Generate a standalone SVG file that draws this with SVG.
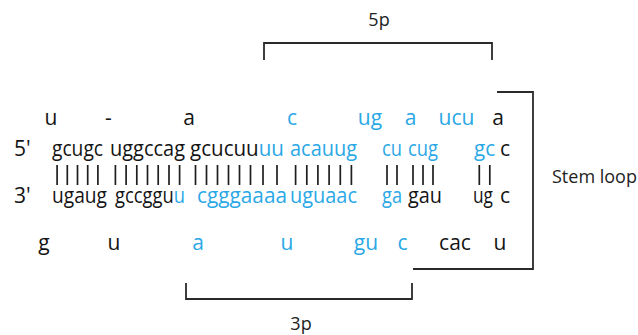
<svg xmlns="http://www.w3.org/2000/svg" width="638" height="335" viewBox="0 0 638 335">
  <style>
    text { font-family: "Open Sans", "Liberation Sans", sans-serif; }
    .seq { font-size: 21px; }
    .k { fill: #141414; }
    .b { fill: #2aa8e6; }
    .lbl { font-size: 18px; fill: #222; }
    .mid { text-anchor: middle; }
    .bracket { fill: none; stroke: #2a2a2a; stroke-width: 1.8; }
    .pair line { stroke: #1e1e1e; stroke-width: 1.7; }
  </style>
  <rect width="638" height="335" fill="#ffffff"/>

  <!-- connectors: region brackets -->
  <g id="connectors">
    <path class="bracket" d="M264,60 V43 H492 V60"/>
    <path class="bracket" d="M186,283 V299 H412 V283"/>
    <path class="bracket" d="M497,92 H533 V269 H413"/>
  </g>

  <g id="label-5p"><text class="lbl mid" x="379" y="26">5p</text></g>
  <g id="label-3p"><text class="lbl mid" x="301" y="330">3p</text></g>
  <g id="label-stem-loop"><text class="lbl" x="552" y="183">Stem loop</text></g>

  <!-- unpaired bases above the 5' arm -->
  <g id="unpaired-5p" class="seq">
    <text class="k mid" x="51" y="125">u</text>
    <text class="k mid" x="108.5" y="125">-</text>
    <text class="k mid" x="189" y="125">a</text>
    <text class="b mid" x="292" y="125">c</text>
    <text class="b mid" x="370" y="125">ug</text>
    <text class="b mid" x="410.5" y="125">a</text>
    <text class="b mid" x="456.5" y="125">ucu</text>
    <text class="k mid" x="498" y="125">a</text>
  </g>

  <!-- 5' strand -->
  <g id="strand-5p" class="seq">
    <text class="k" x="14" y="156">5'</text>
    <text class="k" x="52" y="156" textLength="51" lengthAdjust="spacingAndGlyphs">gcugc</text>
    <text class="k" x="110" y="156" textLength="75" lengthAdjust="spacingAndGlyphs">uggccag</text>
    <text class="k" x="190" y="156" textLength="94" lengthAdjust="spacingAndGlyphs">gcucuu<tspan class="b">uu</tspan></text>
    <text class="b" x="290" y="156" textLength="67" lengthAdjust="spacingAndGlyphs">acauug</text>
    <text class="b" x="382" y="156" textLength="20" lengthAdjust="spacingAndGlyphs">cu</text>
    <text class="b" x="408" y="156" textLength="30" lengthAdjust="spacingAndGlyphs">cug</text>
    <text class="b" x="474" y="156" textLength="21" lengthAdjust="spacingAndGlyphs">gc</text>
    <text class="k" x="500" y="156">c</text>
  </g>

  <!-- base pairs -->
  <g id="pairs" class="pair">
    <line x1="57.1" y1="165" x2="57.1" y2="185"/>
    <line x1="67.3" y1="165" x2="67.3" y2="185"/>
    <line x1="77.5" y1="165" x2="77.5" y2="185"/>
    <line x1="87.7" y1="165" x2="87.7" y2="185"/>
    <line x1="97.9" y1="165" x2="97.9" y2="185"/>
    <line x1="115.4" y1="165" x2="115.4" y2="185"/>
    <line x1="126.1" y1="165" x2="126.1" y2="185"/>
    <line x1="136.8" y1="165" x2="136.8" y2="185"/>
    <line x1="147.5" y1="165" x2="147.5" y2="185"/>
    <line x1="158.2" y1="165" x2="158.2" y2="185"/>
    <line x1="169" y1="165" x2="169" y2="185"/>
    <line x1="179.6" y1="165" x2="179.6" y2="185"/>
    <line x1="195.5" y1="165" x2="195.5" y2="185"/>
    <line x1="206.5" y1="165" x2="206.5" y2="185"/>
    <line x1="217.5" y1="165" x2="217.5" y2="185"/>
    <line x1="228.5" y1="165" x2="228.5" y2="185"/>
    <line x1="239.5" y1="165" x2="239.5" y2="185"/>
    <line x1="250.5" y1="165" x2="250.5" y2="185"/>
    <line x1="263" y1="165" x2="263" y2="185"/>
    <line x1="277" y1="165" x2="277" y2="185"/>
    <line x1="295.6" y1="165" x2="295.6" y2="185"/>
    <line x1="306.8" y1="165" x2="306.8" y2="185"/>
    <line x1="317.9" y1="165" x2="317.9" y2="185"/>
    <line x1="329.1" y1="165" x2="329.1" y2="185"/>
    <line x1="340.3" y1="165" x2="340.3" y2="185"/>
    <line x1="351.4" y1="165" x2="351.4" y2="185"/>
    <line x1="387" y1="165" x2="387" y2="185"/>
    <line x1="397" y1="165" x2="397" y2="185"/>
    <line x1="413" y1="165" x2="413" y2="185"/>
    <line x1="423" y1="165" x2="423" y2="185"/>
    <line x1="433" y1="165" x2="433" y2="185"/>
    <line x1="479.3" y1="165" x2="479.3" y2="185"/>
    <line x1="489.8" y1="165" x2="489.8" y2="185"/>
  </g>

  <!-- 3' strand -->
  <g id="strand-3p" class="seq">
    <text class="k" x="14" y="203">3'</text>
    <text class="k" x="52" y="203" textLength="55" lengthAdjust="spacingAndGlyphs">ugaug</text>
    <text class="k" x="115" y="203" textLength="70" lengthAdjust="spacingAndGlyphs">gccggu<tspan class="b">u</tspan></text>
    <text class="b" x="197" y="203" textLength="90" lengthAdjust="spacingAndGlyphs">cgggaaaa</text>
    <text class="b" x="290" y="203" textLength="67" lengthAdjust="spacingAndGlyphs">uguaac</text>
    <text class="b" x="382" y="203" textLength="20" lengthAdjust="spacingAndGlyphs">ga</text>
    <text class="k" x="408" y="203" textLength="34" lengthAdjust="spacingAndGlyphs">gau</text>
    <text class="k" x="473" y="203" textLength="20" lengthAdjust="spacingAndGlyphs">ug</text>
    <text class="k" x="500" y="203">c</text>
  </g>

  <!-- unpaired bases below the 3' arm -->
  <g id="unpaired-3p" class="seq">
    <text class="k mid" x="44" y="250">g</text>
    <text class="k mid" x="114" y="250">u</text>
    <text class="b mid" x="198" y="250">a</text>
    <text class="b mid" x="287" y="250">u</text>
    <text class="b mid" x="366" y="250">gu</text>
    <text class="b mid" x="402.5" y="250">c</text>
    <text class="k mid" x="455" y="250">cac</text>
    <text class="k mid" x="500" y="250">u</text>
  </g>
</svg>
